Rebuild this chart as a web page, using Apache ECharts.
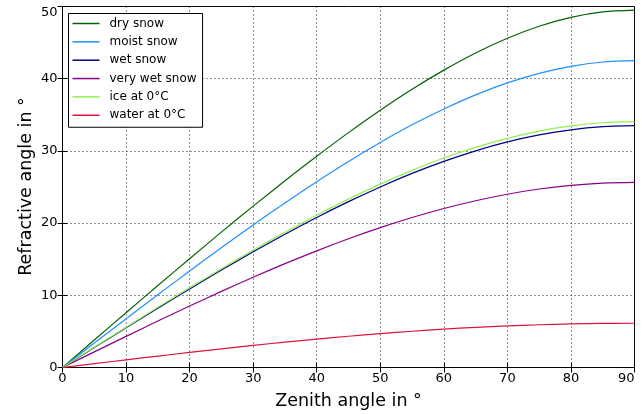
<!DOCTYPE html>
<html>
<head>
<meta charset="utf-8">
<script src="https://cdn.jsdelivr.net/npm/echarts@6/dist/echarts.min.js"></script>
<style>
  html, body { margin: 0; padding: 0; background: #fff; }
  #chart { width: 642px; height: 414px; }
</style>
</head>
<body>
<div id="chart"></div>
<script>
// Zenith angle (degrees) at which each refraction curve is sampled
const zenith = [0, 5, 10, 15, 20, 25, 30, 35, 40, 45, 50, 55, 60, 65, 70, 75, 80, 85, 90];

// Refracted angle (degrees) for each medium
const drySnow     = [0, 3.80, 7.59, 11.35, 15.07, 18.75, 22.35, 25.86, 29.26, 32.53, 35.63, 38.53, 41.19, 43.57, 45.61, 47.27, 48.50, 49.25, 49.50];
const moistSnow   = [0, 3.38, 6.74, 10.07, 13.36, 16.59, 19.75, 22.80, 25.74, 28.54, 31.17, 33.61, 35.81, 37.76, 39.42, 40.74, 41.71, 42.31, 42.50];
const wetSnow     = [0, 2.76, 5.50, 8.21, 10.88, 13.49, 16.02, 18.45, 20.78, 22.97, 25.01, 26.88, 28.55, 30.01, 31.24, 32.21, 32.92, 33.35, 33.50];
const veryWetSnow = [0, 2.16, 4.31, 6.43, 8.51, 10.54, 12.50, 14.38, 16.16, 17.83, 19.37, 20.77, 22.02, 23.10, 24.00, 24.72, 25.23, 25.55, 25.65];
const ice0C       = [0, 2.80, 5.58, 8.33, 11.04, 13.69, 16.26, 18.73, 21.10, 23.32, 25.40, 27.30, 29.01, 30.49, 31.74, 32.74, 33.46, 33.90, 34.05];
const water0C     = [0, 0.53, 1.06, 1.58, 2.09, 2.59, 3.06, 3.51, 3.94, 4.33, 4.69, 5.02, 5.31, 5.56, 5.76, 5.92, 6.04, 6.11, 6.13];

const xTicks = [0, 10, 20, 30, 40, 50, 60, 70, 80, 90];
const yTicks = [0, 10, 20, 30, 40, 50];

const seriesDefs = [
  { name: 'dry snow',      values: drySnow,     color: '#006400' },
  { name: 'moist snow',    values: moistSnow,   color: '#1e90ff' },
  { name: 'wet snow',      values: wetSnow,     color: '#00008b' },
  { name: 'very wet snow', values: veryWetSnow, color: '#8b008b' },
  { name: 'ice at 0°C',    values: ice0C,       color: '#8fef4f' },
  { name: 'water at 0°C',  values: water0C,     color: '#dc143c' }
];

const FONT = 'DejaVu Sans';
const chart = echarts.init(document.getElementById('chart'), null, { renderer: 'canvas' });

const dotted = { color: '#222', width: 1, type: [1, 3] };

function frameAxis(extra) {
  return Object.assign({
    type: 'value',
    axisLine: { show: true, lineStyle: { color: '#000', width: 1 } },
    axisTick: { show: true, inside: true, length: 5, lineStyle: { color: '#000' } },
    axisLabel: { show: false },
    splitLine: { show: false }
  }, extra);
}

const option = {
  animation: false,
  backgroundColor: '#fff',
  textStyle: { fontFamily: FONT },
  grid: {
    left: 62.5, right: 7.5, top: 6.5, bottom: 46.5,
    show: true, borderColor: '#000', borderWidth: 1, backgroundColor: 'transparent'
  },
  legend: {
    orient: 'vertical',
    left: 68.5, top: 13.5,
    padding: [3, 6, 5, 4],
    backgroundColor: '#fff',
    borderColor: '#000',
    borderWidth: 1,
    icon: 'rect',
    itemWidth: 27,
    itemHeight: 1.5,
    itemGap: 4.35,
    textStyle: { fontFamily: FONT, fontSize: 12, color: '#000', lineHeight: 14, padding: [0, 0, 0, 5] },
    data: seriesDefs.map(s => s.name)
  },
  xAxis: [
    frameAxis({
      min: xTicks[0], max: xTicks[xTicks.length - 1], interval: 10,
      axisLabel: {
        show: true, fontFamily: FONT, fontSize: 13, color: '#000', margin: 5,
        alignMaxLabel: 'right'
      },
      splitLine: { show: true, lineStyle: dotted }
    }),
    frameAxis({ position: 'top', min: xTicks[0], max: xTicks[xTicks.length - 1], interval: 10 })
  ],
  yAxis: [
    frameAxis({
      min: yTicks[0], max: yTicks[yTicks.length - 1], interval: 10,
      axisLabel: {
        show: true, fontFamily: FONT, fontSize: 13, color: '#000', margin: 5,
        verticalAlignMaxLabel: 'top'
      },
      splitLine: { show: true, lineStyle: dotted }
    }),
    frameAxis({ position: 'right', min: yTicks[0], max: yTicks[yTicks.length - 1], interval: 10 })
  ],
  graphic: [
    {
      type: 'text', x: 348.5, y: 401,
      style: {
        text: 'Zenith angle in °',
        align: 'center', verticalAlign: 'middle',
        font: '17.5px "DejaVu Sans"', fill: '#000'
      }
    },
    {
      type: 'text', x: 26, y: 186.5, rotation: Math.PI / 2,
      style: {
        text: 'Refractive angle in °',
        align: 'center', verticalAlign: 'middle',
        font: '17.5px "DejaVu Sans"', fill: '#000'
      }
    }
  ],
  series: seriesDefs.map(s => ({
    name: s.name,
    type: 'line',
    xAxisIndex: 0,
    yAxisIndex: 0,
    data: zenith.map((z, i) => [z, s.values[i]]),
    smooth: 0.3,
    showSymbol: false,
    symbol: 'none',
    clip: true,
    color: s.color,
    lineStyle: { color: s.color, width: 1.2 }
  }))
};

chart.setOption(option);
</script>
</body>
</html>
